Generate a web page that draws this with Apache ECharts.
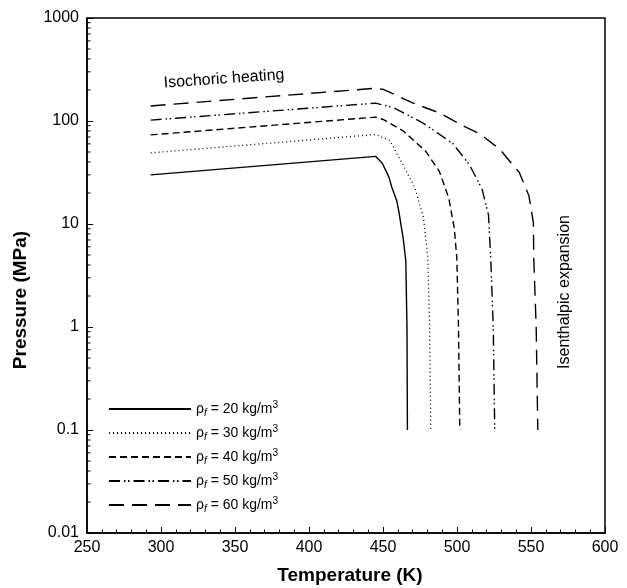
<!DOCTYPE html>
<html>
<head>
<meta charset="utf-8">
<script src="https://cdn.jsdelivr.net/npm/echarts@6/dist/echarts.min.js"></script>
<style>html,body{margin:0;padding:0;background:#fff}#c{width:627px;height:588px}</style>
</head>
<body>
<div id="c"></div>
<script>
// ---- data ----
var densities = [20, 30, 40, 50, 60];
var rho20 = [[293,30],[445,45.4],[449.6,38.7],[454,28.5],[456,22.6],[459.3,16.8],[460.6,13.5],[463.6,7.35],[465.4,4.4],[466.2,1],[466.5,0.1]];
var rho30 = [[293,49],[445,74],[454.6,64.6],[463.1,38.5],[471.6,22.4],[477.4,11.4],[480.3,4.66],[481.5,1],[482.3,0.1]];
var rho40 = [[293,73.3],[445,109],[450.1,103.5],[463.5,80.4],[478.8,51],[488.1,32.4],[494.5,17.7],[498.2,9.03],[499.9,4.61],[501,1],[501.9,0.1]];
var rho50 = [[293,102],[445,149],[457,135],[477.1,95.5],[497.2,60.4],[508.4,37.6],[516.9,21.9],[521.3,12.2],[522.8,4.56],[524.5,1],[525.5,0.1]];
var rho60 = [[293,140],[445,208],[450.5,202],[470,150],[488.7,119],[504,90],[515.5,74.8],[528.9,53.2],[542.1,31.6],[548.6,18.8],[551.6,10.3],[551.9,4.49],[553.5,1],[554.6,0.1]];
var xTicks = [250, 300, 350, 400, 450, 500, 550, 600];
var yTicks = [0.01, 0.1, 1, 10, 100, 1000];
var yMinorTicks = [];
[0.01, 0.1, 1, 10, 100].forEach(function (d) { for (var k = 2; k <= 9; k++) yMinorTicks.push(+(d * k).toPrecision(3)); });

var FONT = 'Liberation Sans, Arial, sans-serif';
var seriesData = [rho20, rho30, rho40, rho50, rho60];
var dashes = ['solid', [1, 3], [7, 4], [11, 4, 1.5, 2.5, 1.5, 4], [15, 8]];
var widths = [1.4, 1.3, 1.4, 1.4, 1.4];
var names = densities.map(function (d) { return 'ρf = ' + d + ' kg/m3'; });

var chart = echarts.init(document.getElementById('c'), null, { renderer: 'canvas' });
var series = seriesData.map(function (d, i) {
  return {
    name: names[i], type: 'line', data: d, symbol: 'none', showSymbol: false, smooth: false,
    silent: true, animation: false,
    lineStyle: { color: '#000', width: widths[i], type: dashes[i] },
    itemStyle: { color: '#000' }
  };
});
series.push({
  type: 'custom', silent: true, animation: false,
  data: yMinorTicks.map(function (v) { return [xTicks[0], v]; }),
  encode: { x: 0, y: 1 },
  renderItem: function (params, api) {
    var p = api.coord([api.value(0), api.value(1)]);
    return { type: 'line', shape: { x1: p[0], y1: p[1], x2: p[0] + 3.5, y2: p[1] }, style: { stroke: '#000', lineWidth: 1 } };
  }
});

chart.setOption({
  animation: false,
  backgroundColor: '#fff',
  grid: { left: 87, right: 22, top: 18, bottom: 55, show: true, borderColor: '#000', borderWidth: 1.5, backgroundColor: 'transparent' },
  xAxis: {
    type: 'value', min: xTicks[0], max: xTicks[xTicks.length - 1], interval: 50,
    axisLine: { lineStyle: { color: '#000', width: 1.5 } },
    axisTick: { inside: true, length: 6, lineStyle: { color: '#000', width: 1 } },
    minorTick: { show: true, splitNumber: 5, length: 3.5, lineStyle: { color: '#000', width: 1 } },
    splitLine: { show: false },
    axisLabel: { color: '#000', fontSize: 16, fontFamily: FONT, margin: 7 }
  },
  yAxis: {
    type: 'log', logBase: 10, min: yTicks[0], max: yTicks[yTicks.length - 1],
    axisLine: { show: true, lineStyle: { color: '#000', width: 1.5 } },
    axisTick: { show: true, inside: true, length: 6, lineStyle: { color: '#000', width: 1 } },
    splitLine: { show: false },
    axisLabel: { color: '#000', fontSize: 16, fontFamily: FONT, margin: 8,
      formatter: function (v) { return String(+v.toPrecision(3)); } }
  },
  legend: {
    data: names, orient: 'vertical', left: 103, top: 395, itemWidth: 82, itemHeight: 14, itemGap: 6,
    selectedMode: false,
    itemStyle: { opacity: 0, borderWidth: 0 },
    formatter: function (name) {
      var d = densities[names.indexOf(name)];
      return '{a|ρ}{s|f}{a| = ' + d + ' kg/m}{p|3}';
    },
    textStyle: {
      color: '#000', fontFamily: FONT, fontSize: 14,
      rich: {
        a: { fontSize: 14, fontFamily: FONT, color: '#000', lineHeight: 18 },
        s: { fontSize: 10, fontFamily: FONT, fontStyle: 'italic', color: '#000', verticalAlign: 'bottom', lineHeight: 12 },
        p: { fontSize: 10, fontFamily: FONT, color: '#000', verticalAlign: 'top', lineHeight: 12 }
      }
    }
  },
  graphic: [
    { type: 'text', x: 224, y: 79, rotation: 4 * Math.PI / 180,
      style: { text: 'Isochoric heating', font: '16px ' + FONT, fill: '#000', align: 'center', verticalAlign: 'middle' } },
    { type: 'text', x: 565, y: 292, rotation: Math.PI / 2,
      style: { text: 'Isenthalpic expansion', font: '16px ' + FONT, fill: '#000', align: 'center', verticalAlign: 'middle' } },
    { type: 'text', x: 350, y: 576,
      style: { text: 'Temperature (K)', font: 'bold 19px ' + FONT, fill: '#000', align: 'center', verticalAlign: 'middle' } },
    { type: 'text', x: 21, y: 300, rotation: Math.PI / 2,
      style: { text: 'Pressure (MPa)', font: 'bold 19px ' + FONT, fill: '#000', align: 'center', verticalAlign: 'middle' } }
  ],
  series: series
});
</script>
</body>
</html>
